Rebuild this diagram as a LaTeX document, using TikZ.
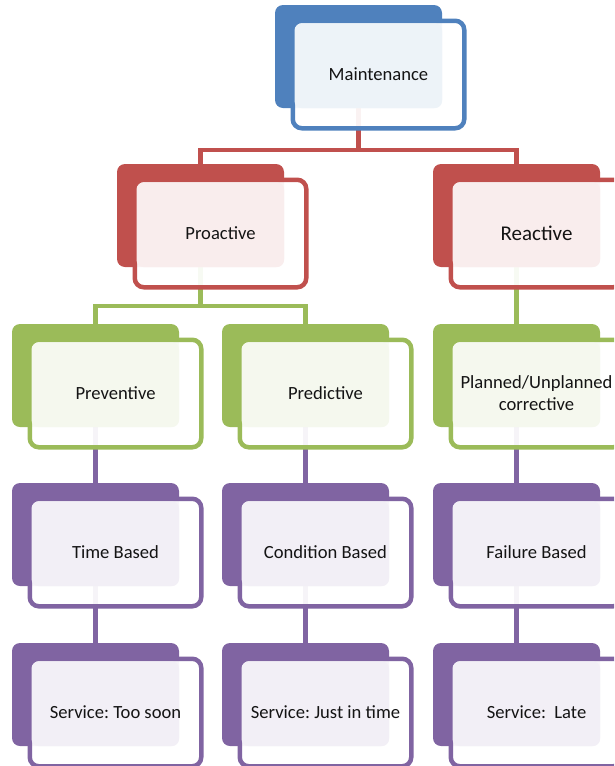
\documentclass[tikz,border=0pt]{standalone}
\usepackage{fontspec}
\setmainfont{Carlito}
\usetikzlibrary{backgrounds}
\definecolor{cblue}{HTML}{4F81BD}
\definecolor{cred}{HTML}{C0504D}
\definecolor{cgreen}{HTML}{9BBB59}
\definecolor{cpurple}{HTML}{8064A2}
\frenchspacing
\tikzset{
  backbox/.style={rectangle, rounded corners=8pt, minimum width=167pt, minimum height=103pt, inner sep=0pt},
  outbox/.style={rectangle, rounded corners=9pt, minimum width=171.5pt, minimum height=107.5pt, inner sep=0pt, line width=4.5pt, fill=white, fill opacity=0.93},
  lbl/.style={text=black!92, align=center, font=\frenchspacing\fontsize{18.6}{22}\selectfont},
  conn/.style={line width=4.5pt}
}
% #1 name, #2 x, #3 y (back top-left), #4 colour, #5 text, #6 extra style
\newcommand\smbox[6]{%
  \node[backbox, fill=#4] (#1b) at (#2+83.5, #3+51.5) {};
  \node[outbox, draw=#4] (#1o) at (#2+103.5, #3+69.5) {};
  \fill[#4!10, rounded corners=7pt] (#2+19.5, #3+18.5) rectangle (#2+167, #3+103);
  \node[lbl, #6] (#1) at (#1o.center) {#5};
}
\begin{document}
\begin{tikzpicture}[x=1pt, y=-1pt]
\useasboundingbox (0,0) rectangle (614,766);
\clip (0,0) rectangle (614,766);
\smbox{m}{275}{5}{cblue}{Maintenance}{}
\smbox{pa}{117}{164}{cred}{Proactive}{}
\smbox{ra}{433}{164}{cred}{Reactive}{font=\fontsize{21}{25}\selectfont}
\smbox{pv}{12}{324}{cgreen}{Preventive}{}
\smbox{pd}{222}{324}{cgreen}{Predictive}{}
\smbox{pu}{433}{324}{cgreen}{Planned/Unplanned\\corrective}{}
\smbox{tb}{12}{483}{cpurple}{Time Based}{}
\smbox{cb}{222}{483}{cpurple}{Condition Based}{}
\smbox{fb}{433}{483}{cpurple}{Failure Based}{}
\smbox{ts}{12}{643}{cpurple}{Service: Too soon}{}
\smbox{js}{222}{643}{cpurple}{Service: Just in time}{}
\smbox{ls}{433}{643}{cpurple}{Service:~~Late}{}
\begin{scope}[on background layer]
  \draw[conn, cred] (mb.center) |- (pab.center |- 0,150) -- (pab.center);
  \draw[conn, cred] (mb.center) |- (rab.center |- 0,150) -- (rab.center);
  \draw[conn, cgreen] (pab.center) |- (pvb.center |- 0,306) -- (pvb.center);
  \draw[conn, cgreen] (pab.center) |- (pdb.center |- 0,306) -- (pdb.center);
  \draw[conn, cgreen] (rab.center) -- (pub.center);
  \draw[conn, cpurple] (pvb.center) -- (tbb.center);
  \draw[conn, cpurple] (pdb.center) -- (cbb.center);
  \draw[conn, cpurple] (pub.center) -- (fbb.center);
  \draw[conn, cpurple] (tbb.center) -- (tsb.center);
  \draw[conn, cpurple] (cbb.center) -- (jsb.center);
  \draw[conn, cpurple] (fbb.center) -- (lsb.center);
\end{scope}
\end{tikzpicture}
\end{document}
